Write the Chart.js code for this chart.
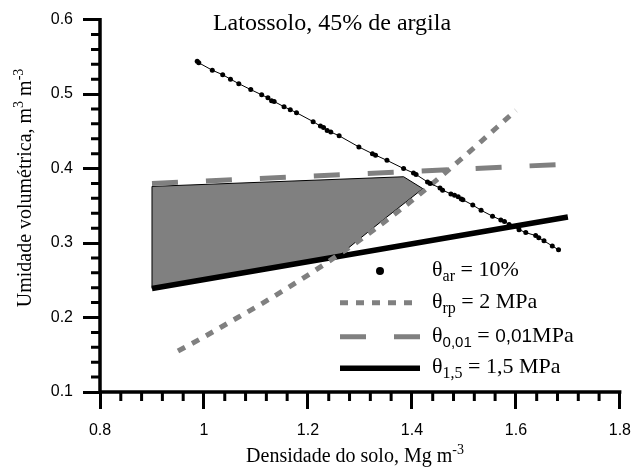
<!DOCTYPE html>
<html>
<head>
<meta charset="utf-8">
<script src="https://cdn.jsdelivr.net/npm/chart.js@4.4.1/dist/chart.umd.min.js"></script>
<style>
  html, body { margin: 0; padding: 0; background: #fff; }
  #wrap { width: 643px; height: 470px; }
</style>
</head>
<body>
<div id="wrap"><canvas id="myChart"></canvas></div>
<script>
// theta ar = 10%
const arX = [0.987, 0.990, 1.016, 1.036, 1.051, 1.067, 1.090, 1.111, 1.123, 1.130, 1.135, 1.154, 1.166, 1.178, 1.210, 1.224, 1.230, 1.237, 1.244, 1.260,
  1.298, 1.324, 1.330, 1.352, 1.384, 1.403, 1.408, 1.430, 1.435, 1.454, 1.459, 1.475, 1.482, 1.489, 1.495, 1.498, 1.517, 1.533, 1.555, 1.571,
  1.578, 1.587, 1.606, 1.619, 1.638, 1.644, 1.654, 1.670, 1.682];
const arY = [0.544, 0.542, 0.532, 0.526, 0.520, 0.514, 0.506, 0.499, 0.495, 0.491, 0.490, 0.483, 0.479, 0.475, 0.463, 0.457, 0.455, 0.451, 0.449, 0.444,
  0.429, 0.420, 0.418, 0.411, 0.400, 0.394, 0.392, 0.382, 0.380, 0.374, 0.371, 0.366, 0.364, 0.362, 0.359, 0.358, 0.351, 0.344, 0.336, 0.331,
  0.329, 0.325, 0.318, 0.314, 0.310, 0.307, 0.303, 0.296, 0.291];

// theta rp = 2 MPa
const rpX = [0.95, 1.00, 1.05, 1.10, 1.15, 1.20, 1.25, 1.30, 1.35, 1.40, 1.45, 1.50, 1.55, 1.60];
const rpY = [0.155, 0.174, 0.194, 0.214, 0.235, 0.257, 0.280, 0.304, 0.330, 0.357, 0.386, 0.416, 0.447, 0.478];

// theta 0,01 MPa
const ccX = [0.9, 1.3, 1.7];
const ccY = [0.380, 0.393, 0.406];

// theta 1,5 MPa
const pmpX = [0.9, 1.3, 1.7];
const pmpY = [0.239, 0.287, 0.335];

// area cinza (IHO)
const ihoX = [0.9, 1.384, 1.421, 1.35, 1.30, 1.256, 0.9, 0.9];
const ihoY = [0.376, 0.389, 0.373, 0.334, 0.306, 0.281, 0.239, 0.376];

// ticks
const xMajor = [0.8, 1, 1.2, 1.4, 1.6, 1.8];
const yMajor = [0.1, 0.2, 0.3, 0.4, 0.5, 0.6];
const nSub = 5;

const serif = '"Liberation Serif", "Times New Roman", serif';
const sans = '"Liberation Sans", Arial, sans-serif';

const toPts = (xs, ys) => xs.map((x, i) => ({ x: x, y: ys[i] }));

function allTicks(major) {
  const out = [];
  for (let i = 0; i < major.length; i++) {
    out.push({ value: major[i] });
    if (i < major.length - 1) {
      const d = (major[i + 1] - major[i]) / nSub;
      for (let k = 1; k < nSub; k++) out.push({ value: major[i] + d * k });
    }
  }
  return out;
}

function isMajor(v, major) {
  return major.some(m => Math.abs(m - v) < 1e-6);
}

// texto com sub/sobrescrito: partes [texto, tamanho, fonte, dy]
function partsWidth(ctx, parts) {
  let w = 0;
  for (const p of parts) { ctx.font = p[1] + 'px ' + p[2]; w += ctx.measureText(p[0]).width; }
  return w;
}
function drawParts(ctx, x, y, parts) {
  for (const p of parts) {
    ctx.font = p[1] + 'px ' + p[2];
    ctx.fillText(p[0], x, y + (p[3] || 0));
    x += ctx.measureText(p[0]).width;
  }
}

const decor = {
  id: 'decor',
  afterDraw(chart) {
    const ctx = chart.ctx;
    const xs = chart.scales.x, ys = chart.scales.y;
    const ax = xs.getPixelForValue(xs.min), ay = ys.getPixelForValue(ys.min);
    ctx.save();
    ctx.setLineDash([]);
    ctx.strokeStyle = '#000';
    ctx.lineCap = 'butt';

    // linhas dos eixos
    ctx.lineWidth = 3.5;
    ctx.beginPath();
    ctx.moveTo(ax, ys.getPixelForValue(ys.max) - 1.5);
    ctx.lineTo(ax, ay);
    ctx.moveTo(ax, ay);
    ctx.lineTo(xs.getPixelForValue(xs.max) + 1.5, ay);
    ctx.stroke();

    // ticks menores
    ctx.lineWidth = 3;
    ctx.beginPath();
    xs.ticks.forEach(t => {
      if (isMajor(t.value, xMajor)) return;
      const px = xs.getPixelForValue(t.value);
      ctx.moveTo(px, ay);
      ctx.lineTo(px, ay + 9);
    });
    ys.ticks.forEach(t => {
      if (isMajor(t.value, yMajor)) return;
      const py = ys.getPixelForValue(t.value);
      ctx.moveTo(ax, py);
      ctx.lineTo(ax - 9, py);
    });
    ctx.stroke();

    ctx.fillStyle = '#000';
    ctx.textBaseline = 'alphabetic';
    ctx.textAlign = 'left';

    // titulo
    const t = [['Latossolo, 45% de argila', 24, serif, 0]];
    drawParts(ctx, 332 - partsWidth(ctx, t) / 2, 29.5, t);

    // eixo x
    const xt = [['Densidade do solo, Mg m', 20, serif, 0], ['-3', 14, serif, -8]];
    drawParts(ctx, 355 - partsWidth(ctx, xt) / 2, 462, xt);

    // eixo y
    const yt = [['Umidade volumétrica, m', 20, serif, 0], ['3', 14, serif, -8], [' m', 20, serif, 0], ['-3', 14, serif, -8]];
    ctx.translate(31, 188);
    ctx.rotate(-Math.PI / 2);
    drawParts(ctx, -partsWidth(ctx, yt) / 2, 0, yt);
    ctx.setTransform(1, 0, 0, 1, 0, 0);

    // legenda
    const lx0 = 340, lx1 = 420, tx = 432;
    const rows = [271, 302.7, 336.7, 368.3];

    ctx.beginPath();
    ctx.arc(380, rows[0], 4, 0, Math.PI * 2);
    ctx.fill();

    const line = (y, color, w, dash) => {
      ctx.beginPath();
      ctx.setLineDash(dash);
      ctx.strokeStyle = color;
      ctx.lineWidth = w;
      ctx.moveTo(lx0, y);
      ctx.lineTo(lx1, y);
      ctx.stroke();
    };
    line(rows[1], '#808080', 5, [8, 8]);
    line(rows[2], '#808080', 5, [26, 28]);
    line(rows[3], '#000', 5.5, []);
    ctx.setLineDash([]);

    const texts = [
      [['θ', 22, serif, 0], ['ar', 16, serif, 5], [' = 10%', 22, serif, 0]],
      [['θ', 22, serif, 0], ['rp', 16, serif, 5], [' = 2 MPa', 22, serif, 0]],
      [['θ', 22, serif, 0], ['0,01', 15, sans, 5], [' = ', 22, serif, 0], ['0,01', 19, sans, 0], ['MPa', 22, serif, 0]],
      [['θ', 22, serif, 0], ['1,5', 16, serif, 5], [' = 1,5 MPa', 22, serif, 0]]
    ];
    texts.forEach((p, i) => drawParts(ctx, tx, rows[i] + 5, p));
    ctx.restore();
  }
};

const majorColor = (c, major) => (c.tick && isMajor(c.tick.value, major)) ? '#000' : 'rgba(0,0,0,0)';

const ctx = document.getElementById('myChart').getContext('2d');
const myChart = new Chart(ctx, {
  type: 'scatter',
  data: {
    datasets: [
      {
        label: 'θar = 10%',
        data: toPts(arX, arY),
        showLine: true,
        borderColor: '#000',
        borderWidth: 1,
        pointRadius: 2.5,
        pointBackgroundColor: '#000',
        pointBorderWidth: 0
      },
      {
        label: 'θrp = 2 MPa',
        data: toPts(rpX, rpY),
        showLine: true,
        borderColor: '#808080',
        borderWidth: 5,
        borderDash: [8, 8],
        borderCapStyle: 'butt',
        cubicInterpolationMode: 'monotone',
        pointRadius: 0
      },
      {
        label: 'θ0,01 = 0,01MPa',
        data: toPts(ccX, ccY),
        showLine: true,
        borderColor: '#808080',
        borderWidth: 5,
        borderDash: [26, 28],
        borderCapStyle: 'butt',
        pointRadius: 0
      },
      {
        label: 'θ1,5 = 1,5 MPa',
        data: toPts(pmpX, pmpY),
        showLine: true,
        borderColor: '#000',
        borderWidth: 5.5,
        pointRadius: 0
      },
      {
        label: 'IHO',
        data: toPts(ihoX, ihoY),
        showLine: true,
        fill: 'shape',
        backgroundColor: '#808080',
        borderColor: '#000',
        borderWidth: 1,
        pointRadius: 0
      }
    ]
  },
  options: {
    responsive: true,
    maintainAspectRatio: false,
    animation: false,
    events: [],
    layout: { padding: { left: 0, top: 15, right: 18, bottom: 0 } },
    plugins: {
      legend: { display: false },
      tooltip: { enabled: false }
    },
    scales: {
      x: {
        type: 'linear',
        min: 0.8,
        max: 1.8,
        afterBuildTicks: s => { s.ticks = allTicks(xMajor); },
        afterFit: s => { s.height = 78; },
        border: { display: false },
        grid: {
          drawOnChartArea: false,
          drawTicks: true,
          tickLength: 17,
          tickWidth: 3,
          tickColor: c => majorColor(c, xMajor)
        },
        ticks: {
          autoSkip: false,
          maxRotation: 0,
          padding: 12,
          color: '#000',
          font: { family: sans, size: 16 },
          callback: v => isMajor(v, xMajor) ? String(+v.toFixed(1)) : ''
        }
      },
      y: {
        type: 'linear',
        min: 0.1,
        max: 0.6,
        afterBuildTicks: s => { s.ticks = allTicks(yMajor); },
        afterFit: s => { s.width = 100; },
        border: { display: false },
        grid: {
          drawOnChartArea: false,
          drawTicks: true,
          tickLength: 17,
          tickWidth: 3,
          tickColor: c => majorColor(c, yMajor)
        },
        ticks: {
          autoSkip: false,
          padding: 10,
          color: '#000',
          font: { family: sans, size: 16 },
          callback: v => isMajor(v, yMajor) ? v.toFixed(1) : ''
        }
      }
    }
  },
  plugins: [decor]
});
</script>
</body>
</html>
